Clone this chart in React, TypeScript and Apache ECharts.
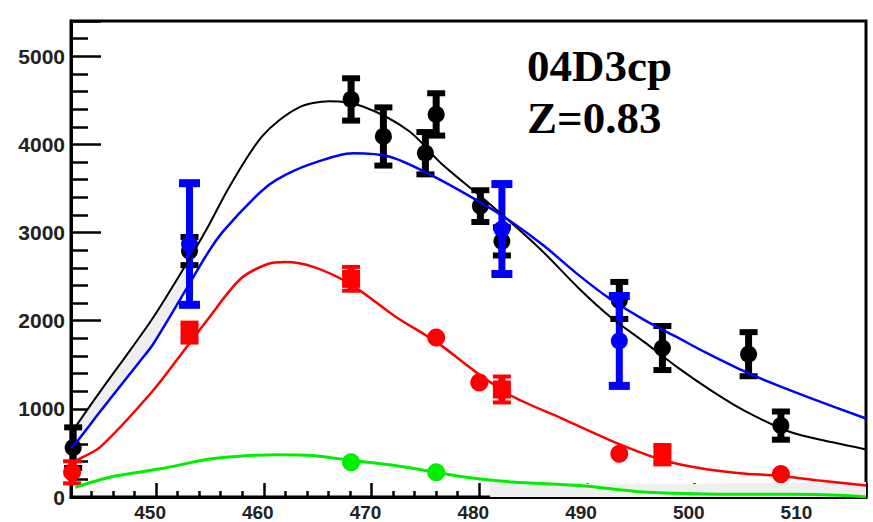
import React, { useEffect, useRef } from 'react';
import * as echarts from 'echarts';

// ---- axis ranges ----
const xMin = 442.1;
const xMax = 515.9;
const yMin = 0;
const yMax = 5400;

// ---- fitted curves ----
const blackCurveX = [442.1, 442.6, 445.0, 447.5, 449.7, 452.7, 454.7, 456.9, 459.9, 463.1, 466.1, 469.2, 473.5, 476.5, 481.1, 485.6, 489.3, 492.2, 495.3, 498.4, 501.5, 504.6, 508.8, 512.8, 515.9];
const blackCurveY = [700, 810, 1230, 1650, 2030, 2620, 3040, 3540, 4100, 4410, 4490, 4430, 4150, 3780, 3310, 2820, 2360, 2040, 1760, 1470, 1210, 980, 740, 620, 540];

const blueCurveX = [442.1, 442.6, 445.0, 448.5, 449.7, 453.1, 454.7, 456.2, 459.6, 461.2, 464.2, 468.3, 471.7, 475.4, 480.0, 483.0, 486.0, 489.0, 492.0, 495.3, 498.4, 501.0, 504.0, 507.0, 511.0, 515.9];
const blueCurveY = [560, 620, 1000, 1540, 1730, 2420, 2750, 3010, 3450, 3600, 3770, 3900, 3860, 3660, 3350, 3120, 2850, 2540, 2260, 2010, 1810, 1640, 1460, 1300, 1110, 890];

const redCurveX = [442.1, 442.6, 444.8, 449.7, 452.8, 454.7, 457.8, 460.3, 462.0, 464.6, 468.1, 472.3, 476.0, 480.0, 483.1, 487.7, 493.0, 497.0, 500.4, 504.2, 507.8, 511.3, 515.9];
const redCurveY = [370, 415, 565, 1205, 1695, 2000, 2470, 2640, 2665, 2610, 2410, 2040, 1760, 1390, 1140, 890, 600, 420, 330, 270, 240, 190, 130];

const greenCurveX = [442.5, 445.7, 450.4, 455.0, 458.0, 461.2, 464.5, 468.1, 472.3, 476.0, 478.8, 483.1, 489.3, 494.9, 500.0, 504.2, 509.0, 513.4, 515.9];
const greenCurveY = [110, 225, 320, 430, 465, 480, 470, 415, 355, 280, 225, 170, 130, 60, 37, 30, 30, 20, 0];

// ---- grey shaded bands ----
const leftBandX = [442.1, 443.0, 445.0, 447.0, 449.0, 451.0, 453.3];
const leftBandLow = [560, 680, 1000, 1320, 1640, 2000, 2490];
const leftBandHigh = [700, 870, 1230, 1570, 1910, 2290, 2750];

const rightBandX = [481.0, 486.0, 492.0, 500.0, 508.0, 515.9];
const rightBandLow = [0, 0, 0, 0, 0, 0];
const rightBandHigh = [170, 160, 150, 150, 160, 170];

// ---- data points ----
const blackPtsX = [442.3, 453.1, 468.1, 471.1, 475.0, 476.0, 480.1, 482.1, 493.0, 497.0, 505.0, 508.0];
const blackPtsY = [560, 2790, 4510, 4090, 3900, 4340, 3300, 2900, 2230, 1690, 1620, 810];
const blackPtsErr = [230, 160, 240, 330, 240, 240, 180, 160, 210, 250, 250, 160];

const bluePtsX = [453.1, 482.1, 493.0];
const bluePtsY = [2870, 3040, 1770];
const bluePtsErr = [690, 510, 510];

const redPtsX = [442.2, 453.1, 468.1, 476.0, 480.0, 482.1, 493.0, 497.0, 508.0];
const redPtsY = [280, 1865, 2475, 1810, 1300, 1220, 490, 480, 260];
const redPtsErr = [125, 113, 135, 0, 0, 147, 0, 110, 0];
const redPtsShape = ['circle', 'square', 'square', 'circle', 'circle', 'square', 'circle', 'square', 'circle'];

const greenPtsX = [468.1, 476.0];
const greenPtsY = [395, 280];

const labelLine1 = '04D3cp';
const labelLine2 = 'Z=0.83';

const zip = (xs: number[], ys: number[]) => xs.map((x, i) => [x, ys[i]]);

function bandSeries(name: string, xs: number[], lo: number[], hi: number[]) {
  return {
    type: 'custom',
    name,
    z: 1,
    silent: true,
    data: [[xs[0], lo[0]]],
    encode: { x: 0, y: 1 },
    renderItem: (params: any, api: any) => {
      const upper = xs.map((x, i) => api.coord([x, hi[i]]));
      const lower = xs.map((x, i) => api.coord([x, lo[i]])).reverse();
      return {
        type: 'polygon',
        shape: { points: upper.concat(lower) },
        style: { fill: '#efefef', stroke: null },
      };
    },
  };
}

function pointSeries(
  name: string,
  xs: number[],
  ys: number[],
  errs: number[],
  shapes: string[],
  color: string,
  opts: { barW: number; capW: number; capH: number; r: number; sq: number },
  z: number
) {
  return {
    type: 'custom',
    name,
    z,
    clip: false,
    silent: true,
    data: xs.map((x, i) => [x, ys[i], errs[i], i]),
    encode: { x: 0, y: 1 },
    renderItem: (params: any, api: any) => {
      const x = api.value(0);
      const y = api.value(1);
      const e = api.value(2);
      const idx = api.value(3);
      const c = api.coord([x, y]);
      const children: any[] = [];
      if (e > 0) {
        const t = api.coord([x, y + e]);
        const b = api.coord([x, y - e]);
        children.push({
          type: 'rect',
          shape: { x: c[0] - opts.barW / 2, y: t[1], width: opts.barW, height: b[1] - t[1] },
          style: { fill: color },
        });
        children.push({
          type: 'rect',
          shape: { x: c[0] - opts.capW / 2, y: t[1] - opts.capH / 2, width: opts.capW, height: opts.capH },
          style: { fill: color },
        });
        children.push({
          type: 'rect',
          shape: { x: c[0] - opts.capW / 2, y: b[1] - opts.capH / 2, width: opts.capW, height: opts.capH },
          style: { fill: color },
        });
      }
      const shape = shapes[idx] || 'circle';
      if (shape === 'square') {
        children.push({
          type: 'rect',
          shape: { x: c[0] - opts.sq / 2, y: c[1] - opts.sq / 2, width: opts.sq, height: opts.sq },
          style: { fill: color },
        });
      } else {
        children.push({
          type: 'circle',
          shape: { cx: c[0], cy: c[1], r: opts.r },
          style: { fill: color },
        });
      }
      return { type: 'group', children };
    },
  };
}

function curveSeries(name: string, xs: number[], ys: number[], color: string, width: number) {
  return {
    type: 'line',
    name,
    z: 6,
    data: zip(xs, ys),
    smooth: 0.3,
    showSymbol: false,
    symbol: 'none',
    silent: true,
    lineStyle: { color, width },
  };
}

export default function App() {
  const ref = useRef<HTMLDivElement>(null);

  useEffect(() => {
    if (!ref.current) return;
    const chart = echarts.init(ref.current, undefined, { renderer: 'svg' });

    const fillShapes = (n: number, s: string) => Array.from({ length: n }, () => s);

    chart.setOption({
      animation: false,
      backgroundColor: '#ffffff',
      grid: {
        left: 71,
        right: 7,
        top: 21,
        bottom: 22,
        show: true,
        borderColor: '#000',
        borderWidth: 3,
        backgroundColor: '#fff',
      },
      xAxis: {
        type: 'value',
        min: xMin,
        max: xMax,
        splitNumber: 7,
        axisLine: { show: true, onZero: false, lineStyle: { color: '#000', width: 3 } },
        axisTick: { show: true, inside: true, length: 14, lineStyle: { color: '#000', width: 2.5 } },
        minorTick: { show: true, splitNumber: 5, length: 6, lineStyle: { color: '#000', width: 2.5 } },
        splitLine: { show: false },
        axisLabel: {
          margin: 6,
          color: '#222',
          fontSize: 19,
          fontWeight: 'bold',
          fontFamily: '"Liberation Sans", Arial, sans-serif',
          padding: [0, 12, 0, 0],
          formatter: (v: number) => (Math.abs(v % 10) < 1e-6 ? String(Math.round(v)) : ''),
        },
      },
      yAxis: {
        type: 'value',
        min: yMin,
        max: yMax,
        interval: 1000,
        axisLine: { show: true, onZero: false, lineStyle: { color: '#000', width: 3 } },
        axisTick: { show: true, inside: true, length: 30, lineStyle: { color: '#000', width: 2.5 } },
        minorTick: { show: true, splitNumber: 5, length: 17, lineStyle: { color: '#000', width: 2.5 } },
        splitLine: { show: false },
        axisLabel: {
          margin: 6,
          color: '#222',
          fontSize: 21,
          fontWeight: 'bold',
          fontFamily: '"Liberation Sans", Arial, sans-serif',
          formatter: (v: number) => (Math.abs(v % 1000) < 1e-6 ? String(Math.round(v)) : ''),
        },
      },
      graphic: [
        {
          type: 'text',
          left: 527,
          top: 43,
          z: 100,
          style: {
            text: labelLine1,
            font: 'bold 45px "Liberation Serif", "Times New Roman", serif',
            fill: '#000',
          },
        },
        {
          type: 'text',
          left: 527,
          top: 95,
          z: 100,
          style: {
            text: labelLine2,
            font: 'bold 45px "Liberation Serif", "Times New Roman", serif',
            fill: '#000',
          },
        },
      ],
      series: [
        bandSeries('leftBand', leftBandX, leftBandLow, leftBandHigh),
        bandSeries('rightBand', rightBandX, rightBandLow, rightBandHigh),
        pointSeries('black', blackPtsX, blackPtsY, blackPtsErr, fillShapes(blackPtsX.length, 'circle'), '#000000',
          { barW: 7, capW: 18, capH: 6, r: 8.5, sq: 16 }, 3),
        pointSeries('red', redPtsX, redPtsY, redPtsErr, redPtsShape, '#ff0000',
          { barW: 7, capW: 18, capH: 4, r: 9, sq: 18 }, 3),
        pointSeries('green', greenPtsX, greenPtsY, greenPtsY.map(() => 0), fillShapes(greenPtsX.length, 'circle'), '#00ee00',
          { barW: 6, capW: 18, capH: 4, r: 9, sq: 16 }, 3),
        pointSeries('blue', bluePtsX, bluePtsY, bluePtsErr, fillShapes(bluePtsX.length, 'circle'), '#0000ff',
          { barW: 7, capW: 21, capH: 8, r: 8.5, sq: 16 }, 4),
        curveSeries('blackCurve', blackCurveX, blackCurveY, '#000000', 2),
        curveSeries('blueCurve', blueCurveX, blueCurveY, '#0000ff', 2.5),
        curveSeries('redCurve', redCurveX, redCurveY, '#ff0000', 2.5),
        curveSeries('greenCurve', greenCurveX, greenCurveY, '#00ee00', 3),
      ],
    });

    return () => {
      chart.dispose();
    };
  }, []);

  return (
    <div
      ref={ref}
      style={{ position: 'fixed', left: 0, top: 0, width: 873, height: 522, background: '#fff' }}
    />
  );
}
